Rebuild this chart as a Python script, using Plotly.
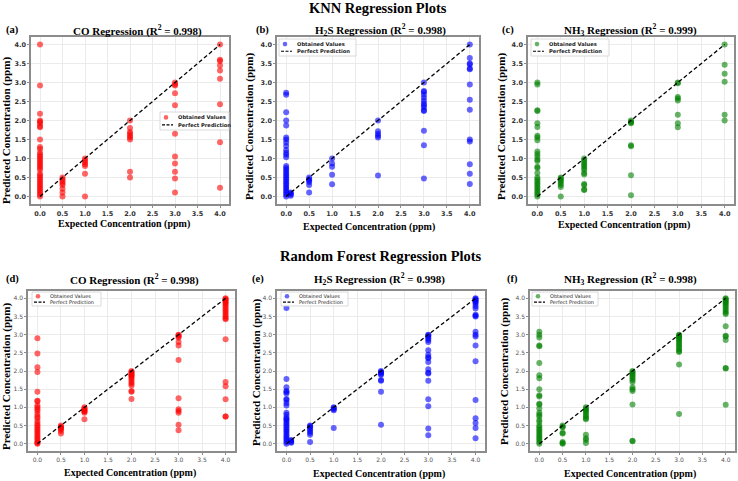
import plotly.graph_objects as go

W, H = 738, 481

# ---------------- data: expected concentration -> predicted values ----------------
knn_co = {
    0.0: [4.0, 2.92, 2.18, 2.0, 1.97, 1.93, 1.85, 1.82, 1.5, 1.3, 1.25, 1.15, 1.1, 1.05, 1.0, 0.95,
          0.9, 0.85, 0.8, 0.75, 0.7, 0.6, 0.55, 0.5, 0.45, 0.4, 0.35, 0.3, 0.25, 0.2, 0.15, 0.1, 0.05, 0.0],
    0.5: [0.5, 0.45, 0.4, 0.35, 0.3, 0.2, 0.1, 0.0],
    1.0: [1.0, 0.95, 0.9, 0.85, 0.8, 0.6, 0.0],
    2.0: [2.0, 1.8, 1.7, 1.65, 1.6, 1.55, 1.5, 0.65, 0.5],
    3.0: [3.0, 2.95, 2.92, 2.72, 2.4, 1.65, 1.05, 0.87, 0.65, 0.47, 0.1],
    4.0: [4.0, 3.6, 3.57, 3.45, 3.32, 3.1, 2.43, 1.43, 0.23],
}
knn_h2s = {
    0.0: [2.73, 2.68, 2.22, 2.0, 1.87, 1.55, 1.5, 1.42, 1.33, 1.22, 1.15, 1.1, 1.03, 0.8, 0.75, 0.7,
          0.65, 0.6, 0.55, 0.5, 0.45, 0.4, 0.35, 0.3, 0.25, 0.2, 0.15, 0.1, 0.05, 0.0],
    0.1: [0.1, 0.08, 0.05, 0.02],
    0.5: [0.5, 0.45, 0.42, 0.38, 0.3, 0.1],
    1.0: [1.0, 0.87, 0.78, 0.57, 0.32],
    2.0: [2.0, 1.72, 1.65, 1.6, 1.55, 0.55],
    3.0: [3.0, 2.78, 2.75, 2.68, 2.6, 2.52, 2.45, 2.4, 2.35, 2.27, 2.25, 1.73, 1.35, 0.47],
    4.0: [4.0, 3.65, 3.5, 3.48, 3.37, 3.35, 2.95, 2.55, 2.28, 1.5, 1.45, 0.85, 0.6, 0.33],
}
knn_nh3 = {
    0.0: [3.0, 2.95, 2.27, 2.25, 1.93, 1.83, 1.6, 1.55, 1.48, 1.18, 1.12, 1.05, 0.97, 0.93, 0.78, 0.75,
          0.62, 0.5, 0.45, 0.4, 0.35, 0.3, 0.25, 0.2, 0.15, 0.1, 0.05, 0.0],
    0.5: [0.5, 0.47, 0.43, 0.4, 0.35, 0.3, 0.25, 0.0],
    1.0: [1.0, 0.95, 0.9, 0.85, 0.8, 0.75, 0.7, 0.62, 0.58, 0.33, 0.3, 0.18, 0.17],
    2.0: [2.0, 1.97, 1.95, 1.93, 1.35, 1.32, 0.56, 0.03],
    3.0: [3.0, 2.98, 2.62, 2.58, 2.53, 2.15, 1.93, 1.82],
    4.0: [4.0, 3.47, 3.23, 3.02, 2.15, 2.0],
}
rf_co = {
    0.0: [2.9, 2.48, 2.1, 1.97, 1.43, 1.18, 1.17, 1.05, 1.0, 0.95, 0.9, 0.82, 0.75, 0.7, 0.62, 0.55,
          0.5, 0.45, 0.4, 0.35, 0.3, 0.25, 0.2, 0.15, 0.1, 0.05, 0.02, 0.0],
    0.5: [0.5, 0.47, 0.45, 0.42, 0.4, 0.35, 0.28],
    1.0: [1.0, 0.97, 0.95, 0.92, 0.9, 0.88, 0.85, 0.67],
    2.0: [2.0, 1.97, 1.95, 1.92, 1.9, 1.87, 1.85, 1.8, 1.75, 1.7, 1.65, 1.6, 1.45, 1.43, 1.23],
    3.0: [3.0, 2.98, 2.95, 2.92, 2.8, 2.7, 2.3, 1.25, 0.95, 0.9, 0.85, 0.52, 0.37],
    4.0: [4.0, 3.98, 3.95, 3.92, 3.88, 3.85, 3.8, 3.75, 3.7, 3.65, 3.6, 3.55, 3.5, 3.45, 3.42, 2.87,
          1.7, 1.58, 1.22, 0.75, 0.75],
}
rf_h2s = {
    0.0: [3.73, 1.78, 1.55, 1.45, 1.42, 1.38, 1.23, 1.2, 1.12, 1.05, 0.85, 0.8, 0.72, 0.68, 0.65, 0.6,
          0.55, 0.5, 0.45, 0.4, 0.35, 0.3, 0.25, 0.2, 0.15, 0.1, 0.05, 0.0],
    0.1: [0.1, 0.08, 0.05, 0.03],
    0.5: [0.5, 0.48, 0.45, 0.4, 0.35, 0.3, 0.25, 0.05],
    1.0: [1.0, 0.98, 0.95, 0.92, 0.43],
    2.0: [2.0, 1.97, 1.95, 1.92, 1.9, 1.75, 1.73, 1.43, 0.52],
    3.0: [3.0, 2.98, 2.95, 2.9, 2.85, 2.8, 2.57, 2.45, 2.38, 2.35, 2.25, 2.05, 1.95, 1.93, 1.73, 1.22,
          1.03, 0.42, 0.23],
    4.0: [4.0, 3.98, 3.95, 3.92, 3.9, 3.85, 3.78, 3.72, 3.55, 3.52, 3.5, 3.08, 3.0, 2.95, 2.7, 2.27,
          1.2, 0.7, 0.57, 0.43, 0.15],
}
rf_nh3 = {
    0.0: [3.08, 3.0, 2.92, 2.7, 2.68, 2.22, 1.88, 1.8, 1.5, 1.33, 1.3, 1.1, 1.08, 0.97, 0.85, 0.8,
          0.75, 0.65, 0.6, 0.5, 0.45, 0.4, 0.35, 0.3, 0.25, 0.2, 0.15, 0.1, 0.05, 0.0],
    0.5: [0.5, 0.47, 0.45, 0.3, 0.28, 0.05, 0.02, 0.0],
    1.0: [1.0, 0.97, 0.93, 0.9, 0.85, 0.8, 0.75, 0.7, 0.67, 0.25, 0.15, 0.1, 0.02],
    2.0: [2.0, 1.97, 1.93, 1.9, 1.85, 1.8, 1.75, 1.7, 1.55, 1.5, 1.45, 1.08, 0.08, 0.07],
    3.0: [3.0, 2.98, 2.95, 2.92, 2.88, 2.85, 2.8, 2.75, 2.7, 2.65, 2.6, 2.55, 2.52, 2.18, 0.82],
    4.0: [4.0, 3.98, 3.95, 3.92, 3.88, 3.85, 3.8, 3.75, 3.7, 3.65, 3.6, 3.57, 3.23, 2.97, 2.95, 2.85,
          2.08, 2.07, 1.07],
}

perfect_line = [0.0, 4.0]
tick_values = [0, 0.5, 1.0, 1.5, 2.0, 2.5, 3.0, 3.5, 4.0]
tick_labels = ["0.0", "0.5", "1.0", "1.5", "2.0", "2.5", "3.0", "3.5", "4.0"]
legend_labels = ["Obtained Values", "Perfect Prediction"]

panel_labels = ["(a)", "(b)", "(c)", "(d)", "(e)", "(f)"]
panel_titles = [
    "CO Regression (R<sup>2</sup> = 0.998)",
    "H<sub>2</sub>S Regression (R<sup>2</sup> = 0.998)",
    "NH<sub>3</sub> Regression (R<sup>2</sup> = 0.999)",
    "CO Regression (R<sup>2</sup> = 0.998)",
    "H<sub>2</sub>S Regression (R<sup>2</sup> = 0.998)",
    "NH<sub>3</sub> Regression (R<sup>2</sup> = 0.998)",
]
row_titles = ["KNN Regression Plots", "Random Forest Regression Plots"]
panel_data = [knn_co, knn_h2s, knn_nh3, rf_co, rf_h2s, rf_nh3]
panel_colors = ["#ff0000", "#0000ff", "#008000", "#ff0000", "#0000ff", "#008000"]

# ---------------- layout geometry (pixels) ----------------
def px_x(v):
    return v / W

def px_y(v):
    return 1 - v / H

# axes frames: (left, right, top, bottom)
frames = [
    (31, 229, 37, 204), (277, 479, 37, 204), (528, 734, 37, 204),
    (28, 235, 291, 451), (277, 485, 291, 451), (530, 735, 291, 451),
]
title_pos = [(137, 30), (380, 30), (630, 30), (134, 279), (379, 279), (630, 279)]
label_pos = [(12.5, 30), (262, 30), (508, 30), (13, 279), (258, 279), (512, 279)]
xtitle_pos = [(124, 223.5), (369, 226.5), (624, 224.5), (130, 473), (379, 474), (630, 474)]
ytitle_pos = [(6, 131), (249, 127), (501, 127), (6, 377), (256, 373), (504, 372)]
# legend boxes: (left, top, right, bottom)
legend_boxes = [
    (160, 112, 229, 130), (279, 39, 356, 56), (531, 39, 609, 56),
    (32, 292, 101, 306), (281, 292, 348, 306), (532, 292, 598, 306),
]

SERIF = "Liberation Serif, Times New Roman, serif"
SANS = "DejaVu Sans, sans-serif"

fig = go.Figure()
layout = dict(
    width=W, height=H, margin=dict(l=0, r=0, t=0, b=0),
    paper_bgcolor="white", plot_bgcolor="white", showlegend=False,
    annotations=[], shapes=[],
)

for i, data in enumerate(panel_data):
    n = i + 1
    xa = "x" if n == 1 else f"x{n}"
    ya = "y" if n == 1 else f"y{n}"
    top_row = i < 3
    xs, ys = [], []
    for k, vals in data.items():
        xs += [k] * len(vals)
        ys += vals
    fig.add_trace(go.Scatter(
        x=xs, y=ys, mode="markers", name=legend_labels[0],
        marker=dict(color=panel_colors[i], size=6, opacity=0.6, line=dict(width=0)),
        xaxis=xa, yaxis=ya,
    ))
    fig.add_trace(go.Scatter(
        x=perfect_line, y=perfect_line, mode="lines", name=legend_labels[1],
        line=dict(color="black", width=1.3, dash="4px,2.5px"),
        xaxis=xa, yaxis=ya,
    ))
    l, r, t, b = frames[i]
    tickfont = dict(family=SANS, size=6.5, color="#333333") if top_row else dict(family=SANS, size=6, color="#555555")
    if top_row:
        tickfont["weight"] = "bold"
    common = dict(
        range=[-0.2, 4.2], tickvals=tick_values, ticktext=tick_labels,
        showgrid=True, gridcolor="#ebebeb", gridwidth=0.8, zeroline=False,
        showline=True, linecolor="#8c8c8c", linewidth=1.5, mirror=True,
        ticks="outside", ticklen=2, tickcolor="#8c8c8c", tickwidth=1,
        tickfont=tickfont, fixedrange=True,
    )
    layout["xaxis" if n == 1 else f"xaxis{n}"] = dict(common, domain=[px_x(l), px_x(r)], anchor=ya)
    layout["yaxis" if n == 1 else f"yaxis{n}"] = dict(common, domain=[px_y(b), px_y(t)], anchor=xa)

    ann = layout["annotations"]
    shp = layout["shapes"]
    # legend (drawn as a compact matplotlib-like box)
    bl, bt, br, bb = legend_boxes[i]
    shp.append(dict(type="rect", xref="paper", yref="paper", x0=px_x(bl), x1=px_x(br),
                    y0=px_y(bb), y1=px_y(bt), fillcolor="rgba(255,255,255,0.85)",
                    line=dict(color="#d0d0d0", width=0.8), layer="above"))
    row1 = bt + (bb - bt) * 0.30
    row2 = bt + (bb - bt) * 0.72
    cx = bl + 6
    rad = 2.3
    shp.append(dict(type="circle", xref="paper", yref="paper",
                    x0=px_x(cx - rad), x1=px_x(cx + rad), y0=px_y(row1 + rad), y1=px_y(row1 - rad),
                    fillcolor=panel_colors[i], opacity=0.6, line=dict(width=0), layer="above"))
    shp.append(dict(type="line", xref="paper", yref="paper",
                    x0=px_x(bl + 2), x1=px_x(bl + 13), y0=px_y(row2), y1=px_y(row2),
                    line=dict(color="black", width=1.2, dash="3px,1.5px"), layer="above"))
    legfont = dict(family=SANS, size=5.2 if top_row else 5, color="#222222")
    if top_row:
        legfont["weight"] = "bold"
    for lbl, ry in zip(legend_labels, (row1, row2)):
        ann.append(dict(text=lbl, x=px_x(bl + 16), y=px_y(ry), xref="paper", yref="paper",
                        showarrow=False, xanchor="left", yanchor="middle", font=legfont))
    # texts
    ann.append(dict(text=panel_titles[i], x=px_x(title_pos[i][0]), y=px_y(title_pos[i][1]),
                    xref="paper", yref="paper", showarrow=False, xanchor="center", yanchor="middle",
                    font=dict(family=SERIF, size=11, color="black", weight="bold")))
    ann.append(dict(text=panel_labels[i], x=px_x(label_pos[i][0]), y=px_y(label_pos[i][1]),
                    xref="paper", yref="paper", showarrow=False, xanchor="center", yanchor="middle",
                    font=dict(family=SERIF, size=10.5, color="black", weight="bold")))
    ann.append(dict(text="Expected Concentration (ppm)", x=px_x(xtitle_pos[i][0]), y=px_y(xtitle_pos[i][1]),
                    xref="paper", yref="paper", showarrow=False, xanchor="center", yanchor="middle",
                    font=dict(family=SERIF, size=10, color="black", weight="bold")))
    ann.append(dict(text="Predicted Concentration (ppm)", x=px_x(ytitle_pos[i][0]), y=px_y(ytitle_pos[i][1]),
                    xref="paper", yref="paper", showarrow=False, xanchor="center", yanchor="middle",
                    textangle=-90,
                    font=dict(family=SERIF, size=11, color="black", weight="bold")))

layout["annotations"].append(dict(text=row_titles[0], x=px_x(378), y=px_y(8), xref="paper", yref="paper",
                                  showarrow=False, xanchor="center", yanchor="middle",
                                  font=dict(family=SERIF, size=14.5, color="black", weight="bold")))
layout["annotations"].append(dict(text=row_titles[1], x=px_x(381), y=px_y(256), xref="paper", yref="paper",
                                  showarrow=False, xanchor="center", yanchor="middle",
                                  font=dict(family=SERIF, size=14.5, color="black", weight="bold")))

fig.update_layout(**layout)
fig.write_html("out.html")
